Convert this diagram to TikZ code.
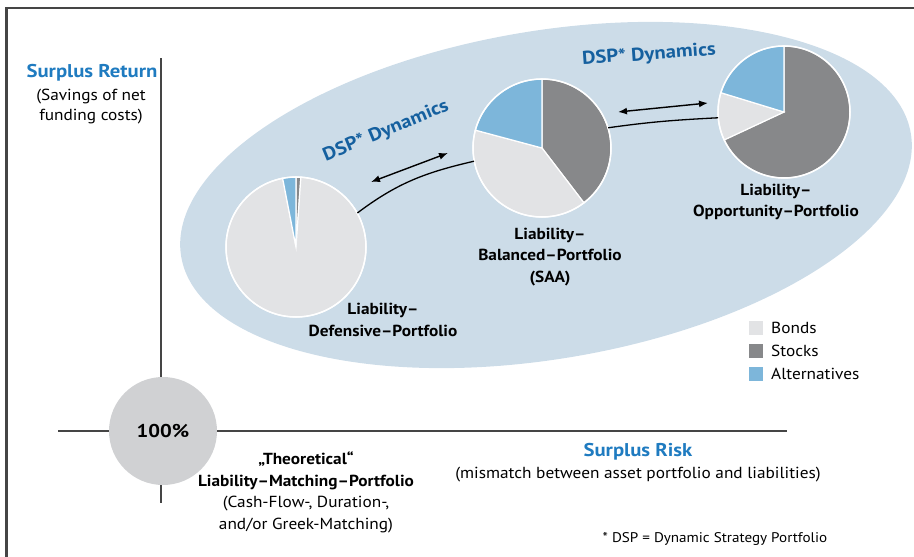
\documentclass[tikz,border=0pt]{standalone}
\usepackage{fontspec}
\setmainfont[FakeStretch=1.08]{PT Sans}
\newfontfamily\ttlfont[FakeStretch=1.12]{PT Sans}
\usetikzlibrary{arrows.meta}
\definecolor{ellblue}{HTML}{CCDCE8}
\definecolor{bondsc}{HTML}{E2E3E5}
\definecolor{stocksc}{HTML}{87888A}
\definecolor{altc}{HTML}{7DB6DA}
\definecolor{circgray}{HTML}{D0D1D3}
\definecolor{sretblue}{HTML}{1F7BC0}
\definecolor{dspblue}{HTML}{15609F}
\definecolor{axisc}{HTML}{454545}
\newcommand{\pslice}[5]{\fill[#5, draw=white, line width=1.2pt] (#1) -- ++(#3:#2) arc[start angle=#3, end angle=#4, radius=#2] -- cycle;}
\begin{document}
\begin{tikzpicture}[x=1pt,y=1pt,
  lbl/.style={align=center, font=\fontsize{16}{21.5}\selectfont\bfseries, inner sep=0pt},
  txt/.style={align=center, font=\fontsize{16}{21}\selectfont, inner sep=0pt},
  ttl/.style={font=\ttlfont\fontsize{18.5}{22}\selectfont\bfseries, text=sretblue, inner sep=0pt},
  dsp/.style={font=\ttlfont\fontsize{18.5}{22}\selectfont\bfseries, text=dspblue, inner sep=0pt},
  axisline/.style={draw=axisc, line width=2pt},
  conn/.style={draw=black, line width=1.3pt},
  dbl/.style={draw=black, line width=1.4pt, {Latex[length=9pt,width=7pt]}-{Latex[length=9pt,width=7pt]}},
  piebox/.style={circle, inner sep=0pt, minimum size=#1},
  legsq/.style={minimum size=14pt, inner sep=0pt},
  legtxt/.style={anchor=west, font=\fontsize{16}{18}\selectfont, inner sep=0pt}]
\useasboundingbox (0,0) rectangle (914,-557);
% frame
\draw[draw=axisc, line width=2.2pt] (6.5,-557) -- (6.5,-8) -- (914,-8);
% ellipse
\fill[ellblue, rotate around={9.6:(546,-195)}] (546,-195) ellipse [x radius=370, y radius=164];
% axes
\draw[axisline] (161,-58) -- (161,-503);
\draw[axisline] (58,-431) -- (787,-431);
% matching portfolio
\node[circle, fill=circgray, minimum size=108pt, inner sep=0pt, font=\ttlfont\fontsize{18.5}{20}\selectfont\bfseries] (lmp) at (163,-431) {100\%};
% pies
\node[piebox=140pt] (def) at (296,-247) {};
\pslice{def.center}{70}{90}{86}{stocksc}
\pslice{def.center}{70}{86}{-259}{bondsc}
\pslice{def.center}{70}{101}{90}{altc}
\draw[white, line width=1.5pt] (def.center) circle[radius=70];
\node[piebox=138pt] (bal) at (542,-148) {};
\pslice{bal.center}{69}{90}{-52.6}{stocksc}
\pslice{bal.center}{69}{-52.6}{-195}{bondsc}
\pslice{bal.center}{69}{165}{90}{altc}
\draw[white, line width=1.5pt] (bal.center) circle[radius=69];
\node[piebox=132pt] (opp) at (784,-112) {};
\pslice{opp.center}{66}{90}{-155}{stocksc}
\pslice{opp.center}{66}{-155}{-197}{bondsc}
\pslice{opp.center}{66}{163}{90}{altc}
\draw[white, line width=1.5pt] (opp.center) circle[radius=66];
% connectors
\draw[conn] (def.29) to[out=37,in=193] (bal.191);
\draw[conn] (bal.17) to[out=8,in=183] (opp.185);
\coordinate (a1) at (371,-182);
\coordinate (a2) at (448,-153);
\coordinate (a3) at (618,-112);
\coordinate (a4) at (708,-103);
\draw[dbl] (a1) -- (a2);
\draw[dbl] (a3) -- (a4);
% labels
\node[dsp, rotate=22.5] (dsp1) at (386,-131) {DSP* Dynamics};
\node[dsp, rotate=4] (dsp2) at (649,-55) {DSP* Dynamics};
\node[lbl] (defl) at (383,-320) {Liability–\\Defensive–Portfolio};
\node[lbl] (ball) at (550,-257) {Liability–\\Balanced–Portfolio\\(SAA)};
\node[lbl] (oppl) at (776,-202) {Liability–\\Opportunity–Portfolio};
% axis texts
\node[ttl] (srt) at (92,-73) {Surplus Return};
\node[txt, font=\fontsize{16}{20}\selectfont] (sr) at (91,-107) {(Savings of net\\funding costs)};
\node[ttl] (srisk) at (638,-452) {Surplus Risk};
\node[txt] (sriskt) at (638,-475) {(mismatch between asset portfolio and liabilities)};
\node[txt, font=\fontsize{16}{21.5}\selectfont] (theo) at (306,-492.5) {{\bfseries „Theoretical“}\\{\bfseries Liability–Matching–Portfolio}\\(Cash-Flow-, Duration-,\\and/or Greek-Matching)};
\node[txt, font=\fontsize{14}{16}\selectfont] (fn) at (715,-539) {* DSP = Dynamic Strategy Portfolio};
% legend
\node[legsq, fill=bondsc] (lb) at (756,-328) {};
\node[legsq, fill=stocksc] (ls) at (756,-351) {};
\node[legsq, fill=altc] (la) at (756,-374) {};
\node[legtxt] (lbt) at (771,-328) {Bonds};
\node[legtxt] (lst) at (771,-351) {Stocks};
\node[legtxt] (lat) at (771,-374) {Alternatives};
\end{tikzpicture}
\end{document}
